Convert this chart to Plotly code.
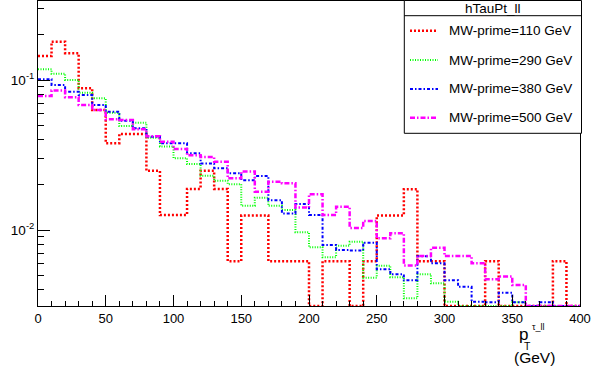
import plotly.graph_objects as go

# p_T^{tau_ll} histograms: 40 bins of 10 GeV between 0 and 400 GeV (unit-normalised)
bin_low = list(range(0, 400, 10))
x_max = 400

series_names = ["MW-prime=110 GeV", "MW-prime=290 GeV", "MW-prime=380 GeV", "MW-prime=500 GeV"]

h110 = [0.1445, 0.180, 0.151, 0.088, 0.063, 0.0379, 0.0437, 0.0437, 0.0248, 0.0126,
        0.0126, 0.0188, 0.0248, 0.0188, 0.0062, 0.0125, 0.0125, 0.0062, 0.0062, 0.0062,
        0.0, 0.0062, 0.0062, 0.0, 0.0062, 0.0125, 0.0125, 0.0187, 0.0062, 0.0062,
        0.0, 0.0, 0.0, 0.0062, 0.0, 0.0, 0.0, 0.0, 0.0062, 0.0]
h290 = [0.118, 0.110, 0.100, 0.0823, 0.0755, 0.0605, 0.0493, 0.0519, 0.0412, 0.0360,
        0.0301, 0.0275, 0.0230, 0.0213, 0.0202, 0.0145, 0.0164, 0.0145, 0.0136, 0.00965,
        0.00767, 0.00658, 0.00786, 0.00836, 0.00481, 0.00578, 0.00484, 0.00351, 0.00507, 0.00441,
        0.00333, 0.0029, 0.0031, 0.0026, 0.0030, 0.0033, 0.0024, 0.0022, 0.0020, 0.0018]
h380 = [0.101, 0.0926, 0.0836, 0.0794, 0.0681, 0.0615, 0.0536, 0.0477, 0.0419, 0.0379,
        0.0379, 0.0325, 0.0278, 0.0258, 0.0239, 0.0215, 0.0229, 0.0158, 0.0129, 0.0149,
        0.0126, 0.00794, 0.00736, 0.0073, 0.00823, 0.00547, 0.00507, 0.00462, 0.00668, 0.0060,
        0.00462, 0.00419, 0.00333, 0.0033, 0.00382, 0.0033, 0.0025, 0.0033, 0.0022, 0.0020]
h500 = [0.0782, 0.085, 0.0767, 0.0681, 0.063, 0.0547, 0.0541, 0.0469, 0.0422, 0.0388,
        0.0347, 0.0315, 0.0307, 0.0285, 0.0221, 0.0245, 0.0180, 0.0210, 0.0205, 0.0141,
        0.0173, 0.0126, 0.0143, 0.0103, 0.0115, 0.0088, 0.0095, 0.0058, 0.0067, 0.0076,
        0.0067, 0.0067, 0.0060, 0.0047, 0.0049, 0.0043, 0.0024, 0.0022, 0.0021, 0.0020]

x_ticks = [0, 50, 100, 150, 200, 250, 300, 350, 400]
y_ticks = [0.01, 0.1]
y_tick_text = ["10<sup>-2</sup>", "10<sup>-1</sup>"]

colors = ["#ff0000", "#00ff00", "#0000ff", "#ff00ff"]
dashes = ["2px,2px", "1px,1.5px", "3px,2px,1.5px,2px", "5px,2px,1.5px,2px"]
widths = [2.5, 2, 2, 2.5]

FONT = "Liberation Sans, Arial, Helvetica, sans-serif"
W, H = 592, 374
L, R, T, B = 38, 580, 1, 306          # frame edges in pixels
log_lo, log_hi = -2.5067, -0.4733
y_floor = 10 ** log_lo                # empty bins are drawn on the frame bottom


def px(xp):
    return (xp - L) / (R - L)


def py(yp):
    return (B - yp) / (B - T)


fig = go.Figure()
for name, vals, c, d, w in zip(series_names, [h110, h290, h380, h500], colors, dashes, widths):
    xs = bin_low + [x_max]
    ys = [max(v, y_floor) for v in vals]
    ys = ys + [ys[-1]]
    fig.add_trace(go.Scatter(x=xs, y=ys, mode="lines", name=name,
                             line=dict(shape="hv", color=c, dash=d, width=w),
                             showlegend=False))

minor_y = [k * 10 ** e for e in (-3, -2, -1) for k in range(2, 10)]
minor_y = [v for v in minor_y if 10 ** log_lo < v < 10 ** log_hi]

fig.update_xaxes(range=[0, x_max], tickvals=x_ticks, ticks="inside", ticklen=11,
                 tickcolor="black", tickwidth=1, showline=True, linecolor="black",
                 mirror=True, showgrid=False, zeroline=False,
                 tickfont=dict(family=FONT, size=13, color="black"),
                 minor=dict(dtick=10, ticks="inside", ticklen=5.5, tickcolor="black"))
fig.update_yaxes(type="log", range=[log_lo, log_hi], tickvals=y_ticks, ticktext=y_tick_text,
                 ticks="inside", ticklen=12, tickcolor="black", tickwidth=1,
                 showline=True, linecolor="black", mirror=True, showgrid=False,
                 zeroline=False, tickfont=dict(family=FONT, size=13.5, color="black"),
                 minor=dict(tickvals=minor_y, ticks="inside", ticklen=6, tickcolor="black"))

shapes = []
annots = []
# legend box with header
lx0, lx1, ly0, ly1, lyh = 404.3, 581.5, 0.5, 133.3, 15.7
shapes.append(dict(type="rect", xref="paper", yref="paper", x0=px(lx0), x1=px(lx1),
                   y0=py(ly1), y1=py(ly0), fillcolor="white",
                   line=dict(color="black", width=1), layer="above"))
shapes.append(dict(type="line", xref="paper", yref="paper", x0=px(lx0), x1=px(lx1),
                   y0=py(lyh), y1=py(lyh), line=dict(color="black", width=1), layer="above"))
annots.append(dict(text="hTauPt_ll", xref="paper", yref="paper", x=px((lx0 + lx1) / 2),
                   y=py(8), xanchor="center", yanchor="middle", showarrow=False,
                   font=dict(family=FONT, size=13.5, color="black")))
entry_y = [30.7, 60, 89, 117.7]
for name, c, d, w, ey in zip(series_names, colors, dashes, widths, entry_y):
    shapes.append(dict(type="line", xref="paper", yref="paper", x0=px(410), x1=px(438),
                       y0=py(ey), y1=py(ey), line=dict(color=c, dash=d, width=w),
                       layer="above"))
    annots.append(dict(text=name, xref="paper", yref="paper", x=px(447), y=py(ey),
                       xanchor="left", yanchor="middle", showarrow=False,
                       font=dict(family=FONT, size=13.5, color="black")))

# x-axis title p_T^{tau_ll} (GeV)
annots.append(dict(text="p", xref="paper", yref="paper", x=px(523.5), y=py(334),
                   xanchor="center", yanchor="middle", showarrow=False,
                   font=dict(family=FONT, size=17, color="black")))
annots.append(dict(text="T", xref="paper", yref="paper", x=px(527), y=py(346.5),
                   xanchor="center", yanchor="middle", showarrow=False,
                   font=dict(family=FONT, size=10.5, color="black")))
annots.append(dict(text="τ_ll", xref="paper", yref="paper", x=px(529.5), y=py(326.5),
                   xanchor="left", yanchor="middle", showarrow=False,
                   font=dict(family=FONT, size=9, color="black")))
annots.append(dict(text="(GeV)", xref="paper", yref="paper", x=px(534), y=py(357.5),
                   xanchor="center", yanchor="middle", showarrow=False,
                   font=dict(family=FONT, size=15.5, color="black")))

fig.update_layout(width=W, height=H, margin=dict(l=L, r=W - R, t=T, b=H - B),
                  paper_bgcolor="white", plot_bgcolor="white", showlegend=False,
                  shapes=shapes, annotations=annots)

fig.write_html("out.html")
